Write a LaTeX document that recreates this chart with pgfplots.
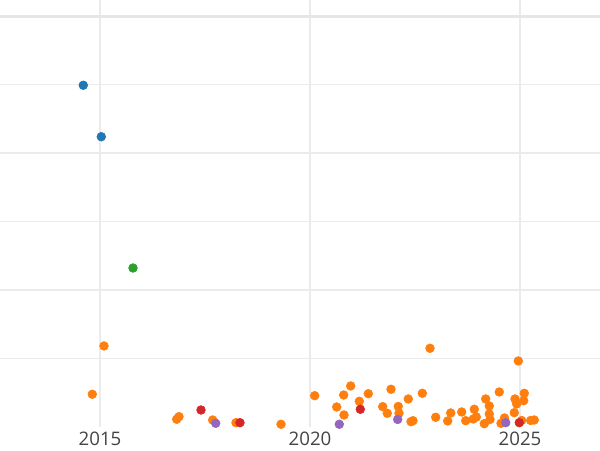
\documentclass[border=0pt]{standalone}
\usepackage{fontspec}
\setmainfont{Open Sans}
\usepackage{pgfplots}
\pgfplotsset{compat=1.18}
\definecolor{cblue}{HTML}{1F77B4}
\definecolor{corange}{HTML}{FF7F0E}
\definecolor{cgreen}{HTML}{2CA02C}
\definecolor{cred}{HTML}{D62728}
\definecolor{cpurple}{HTML}{9467BD}
\definecolor{gridc}{HTML}{EBEBEB}
\definecolor{gridd}{HTML}{E6E6E6}
\definecolor{tickc}{HTML}{444444}
\begin{document}
\begin{tikzpicture}[x=1pt,y=1pt]
\begin{axis}[
  name=ax,
  scale only axis,
  width=450pt, height=320.6pt,
  xmin=2012.619, xmax=2026.905,
  ymin=0, ymax=6.241,
  axis line style={draw=none},
  clip=true,
  xtick={2015,2020,2025},
  xticklabels={2015,2020,2025},
  ytick={2,4,6},
  minor ytick={1,3,5},
  yticklabels={},
  major tick length=0pt, minor tick length=0pt,
  tick style={draw=none},
  xmajorgrids, ymajorgrids, yminorgrids,
  major grid style={gridc, line width=1.5pt},
  minor grid style={gridc, line width=0.75pt},
  x grid style={gridc, line width=1.2pt},
  /pgf/number format/assume math mode=true,
  xticklabel style={font=\fontsize{14pt}{16pt}\selectfont, text=tickc},
  every axis plot/.append style={only marks, mark=*, mark size=3.3pt},
]
\draw[gridd, line width=1.6pt] (axis cs:2012.619,6) -- (axis cs:2026.905,6);
\addplot[cblue, mark options={draw=none, fill=cblue}] coordinates {
(2014.602,4.996) (2015.031,4.245)
};
\addplot[corange, mark options={draw=none, fill=corange}] coordinates {
(2015.095,1.190) (2014.817,0.485) (2016.826,0.120) (2016.881,0.158)
(2017.683,0.109) (2018.238,0.070) (2019.310,0.047) (2020.112,0.464)
(2020.636,0.299) (2020.802,0.474) (2020.969,0.606) (2020.810,0.182)
(2021.174,0.382) (2021.388,0.493) (2021.731,0.304) (2021.840,0.207)
(2021.929,0.558) (2022.102,0.307) (2022.119,0.207) (2022.340,0.416)
(2022.405,0.085) (2022.452,0.099) (2022.674,0.499) (2022.857,1.156)
(2022.993,0.149) (2023.279,0.095) (2023.350,0.212) (2023.612,0.226)
(2023.707,0.099) (2023.912,0.266) (2023.888,0.124) (2023.960,0.153)
(2024.183,0.416) (2024.150,0.055) (2024.269,0.314) (2024.269,0.197)
(2024.286,0.117) (2024.507,0.518) (2024.548,0.061) (2024.631,0.139)
(2024.864,0.216) (2024.881,0.416) (2024.921,0.343) (2024.960,0.971)
(2025.102,0.499) (2025.088,0.391) (2025.040,0.102) (2025.255,0.102)
(2025.340,0.109)
};
\addplot[cgreen, mark options={draw=none, fill=cgreen}] coordinates {
(2015.786,2.328)
};
\addplot[cred, mark options={draw=none, fill=cred}] coordinates {
(2017.405,0.255) (2018.333,0.070) (2021.198,0.266) (2024.983,0.070)
};
\addplot[cpurple, mark options={draw=none, fill=cpurple}] coordinates {
(2017.755,0.061) (2020.698,0.047) (2022.088,0.117) (2024.660,0.070)
};
\end{axis}
\pgfresetboundingbox
\path[use as bounding box] (ax.south west) ++(0,-16.9pt) rectangle (ax.north east);
\end{tikzpicture}
\end{document}
